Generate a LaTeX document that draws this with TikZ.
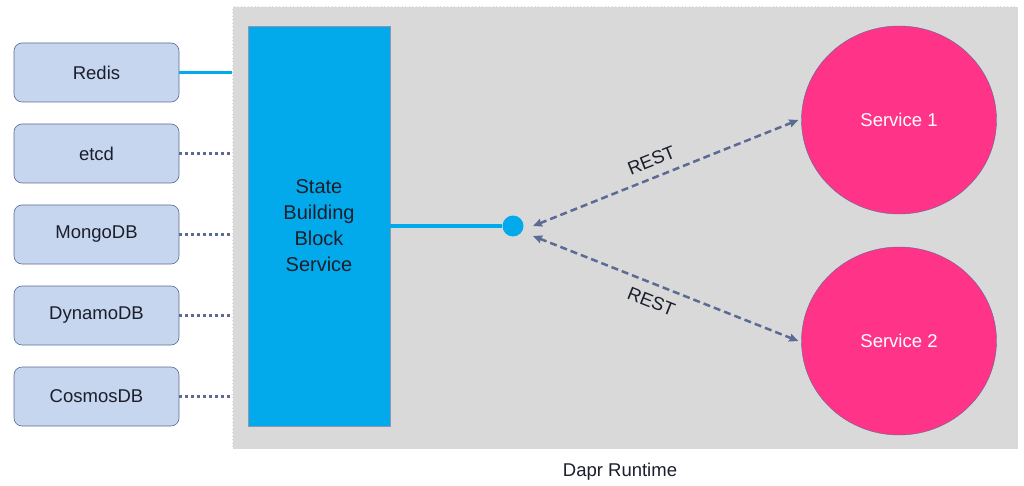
\documentclass[tikz,border=0pt]{standalone}
\usepackage{fontspec}
\setmainfont{Liberation Sans}
\usetikzlibrary{arrows.meta, shapes.geometric, positioning}

\definecolor{runtimegray}{HTML}{D9D9D9}
\definecolor{sbbblue}{HTML}{02AAEB}
\definecolor{svcpink}{HTML}{FF3388}
\definecolor{storefill}{HTML}{C6D6EE}
\definecolor{linkgray}{HTML}{5B6B94}
\definecolor{txtdark}{HTML}{1B1E2B}

\begin{document}
\begin{tikzpicture}[x=1pt, y=-1pt, semithick, font=\fontsize{18.5}{22}\selectfont\color{txtdark},
		store/.style={draw=linkgray, fill=storefill, rounded corners=8pt, minimum width=165pt, minimum height=59pt},
		svc/.style={ellipse, draw=linkgray, thin, fill=svcpink, minimum width=195pt, minimum height=188pt, text=white},
		dotlink/.style={draw=linkgray, line width=3.5pt, dash pattern=on 3pt off 3pt},
		rest/.style={draw=linkgray, line width=2.5pt, dash pattern=on 7pt off 4pt, {Stealth[length=9pt,width=8pt,inset=1pt]}-{Stealth[length=9pt,width=8pt,inset=1pt]}}]
		\useasboundingbox (0,0) rectangle (1024,486);
		\node[fill=runtimegray, draw=white, thin, densely dotted, minimum width=786pt, minimum height=443pt] (rt) at (625,227.5) {};
		\node (rtlabel) at (620,472) {Dapr Runtime};
		
		\node[store] (redis) at (96.5,72.5) {Redis};
		\node[store] (etcd) at (96.5,153.5) {etcd};
		\node[store] (mongo) at (96.5,234.5) {MongoDB};
		\node[store] (dynamo) at (96.5,315.5) {DynamoDB};
		\node[store] (cosmos) at (96.5,396.5) {CosmosDB};
		
		\node[draw=linkgray!70, thin, fill=sbbblue, minimum width=142pt, minimum height=400pt, align=center, font=\fontsize{20}{26}\selectfont\color{txtdark}] (sbb) at (319,226) {State\\Building\\Block\\Service};
		\node[circle, fill=sbbblue, minimum size=21pt, inner sep=0pt] (dot) at (513,226) {};
		
		\node[svc] (s1) at (899,120) {Service 1};
		\node[svc] (s2) at (899,341) {Service 2};
		
		\coordinate (p1) at (533,226);
		\coordinate (p2) at (533,236);
		
		\draw[sbbblue, line width=2.5pt] (redis.east) -- (redis.east -| rt.west);
		\foreach \db in {etcd, mongo, dynamo, cosmos}
			\draw[dotlink] (\db.east) -- (\db.east -| rt.west);
		\draw[sbbblue, line width=4pt] (sbb.east |- dot) -- (dot);
		
		\path (p1) edge[rest] node[sloped, above=6pt, pos=0.47] {REST} ([xshift=-3pt]s1.west)
			(p2) edge[rest] node[sloped, below=6pt, pos=0.47] {REST} ([xshift=-3pt]s2.west);
	\end{tikzpicture}
\end{document}
